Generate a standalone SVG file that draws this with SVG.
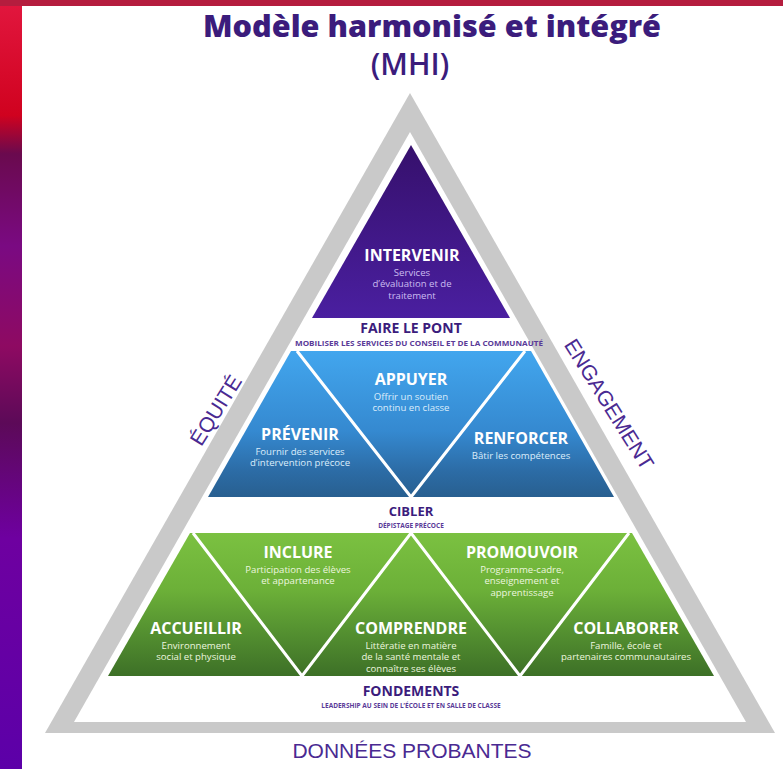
<svg xmlns="http://www.w3.org/2000/svg" width="783" height="769" viewBox="0 0 783 769">
<style>
.h{font-family:"Open Sans","Noto Sans",sans-serif;font-weight:700;fill:#ffffff;text-anchor:middle;font-size:16px}
.s{font-family:"Open Sans","Noto Sans",sans-serif;font-size:9.6px;text-anchor:middle}
.sp{fill:#cbbcf0}.sb{fill:#dcedfb}.sg{fill:#ecf6df}
.band{font-family:"Open Sans","Noto Sans",sans-serif;font-weight:700;text-anchor:middle;fill:#3b1c7c}
.small{font-family:"Open Sans","Noto Sans",sans-serif;font-weight:700;text-anchor:middle;fill:#5a3a98;font-size:6.5px}
.side{font-family:"Liberation Sans",Arial,sans-serif;fill:#4a2a92;text-anchor:middle}
.div{stroke:#ffffff;stroke-width:3;fill:none}
</style>
<defs>
<linearGradient id="gp" x1="0" y1="0" x2="0" y2="1"><stop offset="0" stop-color="#36106c"/><stop offset="1" stop-color="#4a1fa0"/></linearGradient>
<linearGradient id="gb" x1="0" y1="0" x2="0" y2="1"><stop offset="0" stop-color="#42a6ee"/><stop offset="0.55" stop-color="#3589d0"/><stop offset="0.82" stop-color="#2c6ca6"/><stop offset="1" stop-color="#285f90"/></linearGradient>
<linearGradient id="gg" x1="0" y1="0" x2="0" y2="1"><stop offset="0" stop-color="#7bc141"/><stop offset="0.4" stop-color="#6cb038"/><stop offset="0.6" stop-color="#5b9a33"/><stop offset="1" stop-color="#3d7027"/></linearGradient>
<linearGradient id="gl" x1="0" y1="0" x2="0" y2="1"><stop offset="0" stop-color="#e2173f"/><stop offset="0.15" stop-color="#d0021f"/><stop offset="0.2" stop-color="#6a0a4e"/><stop offset="0.32" stop-color="#7a0a82"/><stop offset="0.45" stop-color="#8e0a62"/><stop offset="0.55" stop-color="#5c0a58"/><stop offset="0.7" stop-color="#6e00a0"/><stop offset="1" stop-color="#5c00a8"/></linearGradient>
</defs>
<rect x="0" y="0" width="783" height="769" fill="#ffffff"/>
<rect x="0" y="0" width="22" height="769" fill="url(#gl)"/>
<rect x="0" y="0" width="783" height="6" fill="#b51d3e"/>

<g id="title">
<text x="432" y="37" font-family="Open Sans, Noto Sans, sans-serif" font-weight="800" font-size="30" fill="#3b1c7c" text-anchor="middle" textLength="458" lengthAdjust="spacingAndGlyphs">Modèle harmonisé et intégré</text>
<text x="410" y="75" font-family="Open Sans, Noto Sans, sans-serif" font-weight="600" font-size="30" fill="#3b1c7c" text-anchor="middle">(MHI)</text>
</g>

<g id="frame">
<polygon points="410,93 45,733 775,733" fill="#c9c9c9"/>
<polygon points="410,132 74,722 746,722" fill="#ffffff"/>
<text class="side" font-size="21" transform="translate(222,414) rotate(-58)">ÉQUITÉ</text>
<text class="side" font-size="21" transform="translate(603,408) rotate(58)">ENGAGEMENT</text>
<text class="side" font-size="21" x="412" y="758">DONNÉES PROBANTES</text>
</g>

<g id="intervenir">
<polygon points="411,145 312,318 510,318" fill="url(#gp)"/>
<text class="h" x="412" y="261">INTERVENIR</text>
<text class="s sp" x="412" y="275.5">Services</text>
<text class="s sp" x="412" y="287">d’évaluation et de</text>
<text class="s sp" x="412" y="298.5">traitement</text>
</g>

<g id="faire-le-pont">
<text class="band" x="411" y="333" font-size="14">FAIRE LE PONT</text>
<text class="small" x="419" y="346" textLength="248" lengthAdjust="spacingAndGlyphs">MOBILISER LES SERVICES DU CONSEIL ET DE LA COMMUNAUTÉ</text>
</g>

<g id="tier-blue">
<polygon points="291,351 531,351 614,497 208,497" fill="url(#gb)"/>
</g>
<g id="appuyer">
<text class="h" x="411" y="385">APPUYER</text>
<text class="s sb" x="411" y="399.5">Offrir un soutien</text>
<text class="s sb" x="411" y="411">continu en classe</text>
</g>
<g id="prevenir">
<text class="h" x="300" y="440">PRÉVENIR</text>
<text class="s sb" x="300" y="454.5">Fournir des services</text>
<text class="s sb" x="300" y="466">d’intervention précoce</text>
</g>
<g id="renforcer">
<text class="h" x="521" y="444">RENFORCER</text>
<text class="s sb" x="521" y="458.5">Bâtir les compétences</text>
</g>

<g id="cibler">
<text class="band" x="411" y="516" font-size="13">CIBLER</text>
<text class="small" x="411" y="528" fill="#7a5ab0">DÉPISTAGE PRÉCOCE</text>
</g>

<g id="tier-green">
<polygon points="190,533 632,533 714,676 108,676" fill="url(#gg)"/>
</g>
<g id="inclure">
<text class="h" x="298" y="558">INCLURE</text>
<text class="s sg" x="298" y="572.5">Participation des élèves</text>
<text class="s sg" x="298" y="584">et appartenance</text>
</g>
<g id="promouvoir">
<text class="h" x="522" y="558">PROMOUVOIR</text>
<text class="s sg" x="522" y="572.5">Programme-cadre,</text>
<text class="s sg" x="522" y="584">enseignement et</text>
<text class="s sg" x="522" y="595.5">apprentissage</text>
</g>
<g id="accueillir">
<text class="h" x="196" y="634">ACCUEILLIR</text>
<text class="s sg" x="196" y="648.5">Environnement</text>
<text class="s sg" x="196" y="660">social et physique</text>
</g>
<g id="comprendre">
<text class="h" x="411" y="634">COMPRENDRE</text>
<text class="s sg" x="411" y="648.5">Littératie en matière</text>
<text class="s sg" x="411" y="660">de la santé mentale et</text>
<text class="s sg" x="411" y="671.5">connaître ses élèves</text>
</g>
<g id="collaborer">
<text class="h" x="626" y="634">COLLABORER</text>
<text class="s sg" x="626" y="648.5">Famille, école et</text>
<text class="s sg" x="626" y="660">partenaires communautaires</text>
</g>

<g id="fondements">
<text class="band" x="411" y="696" font-size="14">FONDEMENTS</text>
<text class="small" x="411" y="708">LEADERSHIP AU SEIN DE L’ÉCOLE ET EN SALLE DE CLASSE</text>
</g>

<g id="connectors">
<path class="div" d="M297,351 L411,497 L525,351"/>
<path class="div" d="M193,533 L302,676 L411,533 L520,676 L629,533"/>
</g>
</svg>
